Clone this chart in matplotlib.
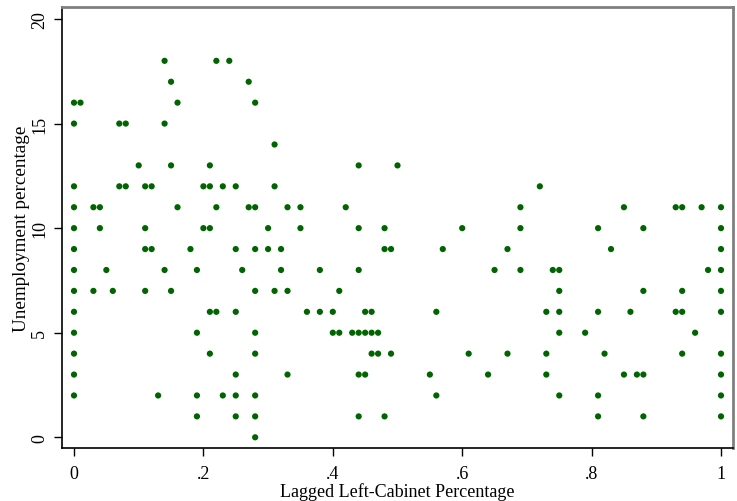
import matplotlib
matplotlib.use("Agg")
import matplotlib.pyplot as plt

# Lagged left-cabinet share (x) and unemployment percentage (y), grouped by x
x_groups = [0.00, 0.01, 0.03, 0.04, 0.05, 0.06, 0.07, 0.08, 0.10, 0.11, 0.12, 0.13,
            0.14, 0.15, 0.16, 0.18, 0.19, 0.20, 0.21, 0.22, 0.23, 0.24, 0.25, 0.26,
            0.27, 0.28, 0.30, 0.31, 0.32, 0.33, 0.35, 0.36, 0.38, 0.40, 0.41, 0.42,
            0.43, 0.44, 0.45, 0.46, 0.47, 0.48, 0.49, 0.50, 0.55, 0.56, 0.57, 0.60,
            0.61, 0.64, 0.65, 0.67, 0.69, 0.72, 0.73, 0.74, 0.75, 0.79, 0.81, 0.82,
            0.83, 0.85, 0.86, 0.87, 0.88, 0.93, 0.94, 0.96, 0.97, 0.98, 1.00]
y_groups = [
    [16, 15, 12, 11, 10, 9, 8, 7, 6, 5, 4, 3, 2],
    [16], [11, 7], [11, 10], [8], [7], [15, 12], [15, 12], [13],
    [12, 10, 9, 7], [12, 9], [2], [18, 15, 8], [17, 13, 7], [16, 11], [9],
    [8, 5, 2, 1], [12, 10], [13, 12, 10, 6, 4], [18, 11, 6], [12, 2], [18],
    [12, 9, 6, 3, 2, 1], [8], [17, 11], [16, 11, 9, 7, 5, 4, 2, 1, 0],
    [10, 9], [14, 12, 7], [9, 8], [11, 7, 3], [11, 10], [6], [8, 6], [6, 5],
    [7, 5], [11], [5], [13, 10, 8, 5, 3, 1], [6, 5, 3], [6, 5, 4], [5, 4],
    [10, 9, 1], [9, 4], [13], [3], [6, 2], [9], [10], [4], [3], [8], [9, 4],
    [11, 10, 8], [12], [6, 4, 3], [8], [8, 7, 6, 5, 2], [5], [10, 6, 2, 1],
    [4], [9], [11, 3], [6], [3], [10, 7, 3, 1], [11, 6], [11, 7, 6, 4], [5],
    [11], [8], [11, 10, 9, 8, 7, 6, 4, 3, 2, 1],
]
x_ticks = [0, 0.2, 0.4, 0.6, 0.8, 1.0]
x_ticklabels = ["0", ".2", ".4", ".6", ".8", "1"]
y_ticks = [0, 5, 10, 15, 20]
y_ticklabels = ["0", "5", "10", "15", "20"]

xs, ys = [], []
for xv, yl in zip(x_groups, y_groups):
    for yv in yl:
        xs.append(xv)
        ys.append(yv)

plt.rcParams['font.family'] = ['Liberation Serif', 'DejaVu Serif']

fig = plt.figure(figsize=(7.37, 5.02), dpi=100)
ax = fig.add_axes([62 / 737, 1 - 449.3 / 502, (732.7 - 62) / 737, (449.3 - 7.7) / 502])
ax.scatter(xs, ys, s=20, color="#006400", edgecolors="none", zorder=3)

ax.set_xlim(-12 / 647, 1 + 11.7 / 647)
ax.set_ylim(-11 / 20.915, 20 + 12.3 / 20.915)

ax.set_xticks(x_ticks)
ax.set_xticklabels(x_ticklabels, fontsize=13)
ax.set_yticks(y_ticks)
ax.set_yticklabels(y_ticklabels, fontsize=13, rotation=90, va="center")
ax.tick_params(axis="x", direction="out", length=6, width=1, color="black", pad=6)
ax.tick_params(axis="y", direction="out", length=6, width=1, color="black", pad=4)

ax.set_xlabel("Lagged Left-Cabinet Percentage", fontsize=13, labelpad=0)
ax.set_ylabel("Unemployment percentage", fontsize=13.8, labelpad=1)

for side in ["left", "bottom"]:
    ax.spines[side].set_color("black")
    ax.spines[side].set_linewidth(1.2)
for side in ["top", "right"]:
    ax.spines[side].set_color("#808080")
    ax.spines[side].set_linewidth(2)

fig.savefig("out.png", dpi=100)
